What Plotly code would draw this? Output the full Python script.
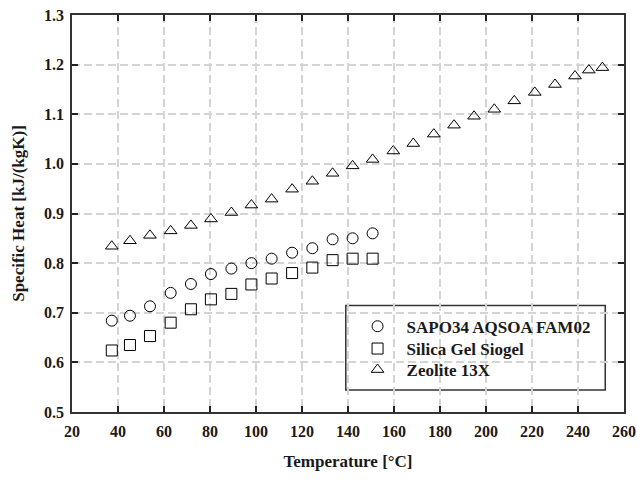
import plotly.graph_objects as go

temps = [37.3, 45.2, 53.9, 62.9, 71.7, 80.4, 89.3, 98.0, 106.8, 115.7, 124.5, 133.3, 142.0, 150.7,
         159.7, 168.4, 177.3, 186.1, 194.8, 203.6, 212.3, 221.2, 230.0, 238.7, 244.7, 250.6]

sapo34 = [0.684, 0.694, 0.713, 0.740, 0.758, 0.778, 0.789, 0.800, 0.809, 0.821, 0.830, 0.848, 0.850, 0.860]
silica = [0.624, 0.635, 0.653, 0.680, 0.707, 0.727, 0.738, 0.757, 0.769, 0.780, 0.791, 0.806, 0.809, 0.809]
zeolite = [0.834, 0.845, 0.856, 0.865, 0.876, 0.889, 0.902, 0.917, 0.929, 0.949, 0.965, 0.981, 0.996, 1.009,
           1.026, 1.041, 1.060, 1.078, 1.096, 1.110, 1.127, 1.144, 1.160, 1.177, 1.189, 1.194]

names = ["SAPO34 AQSOA FAM02", "Silica Gel Siogel", "Zeolite 13X"]
x_ticks = list(range(20, 261, 20))
y_ticks = [0.5, 0.6, 0.7, 0.8, 0.9, 1.0, 1.1, 1.2, 1.3]

FONT = "Liberation Serif"
TXT = "#1a1a1a"

fig = go.Figure()
series = [(sapo34, "circle-open"), (silica, "square-open"), (zeolite, "triangle-up-open")]
legend_ids = ["legend", "legend2", "legend3"]
for (vals, sym), name, lid in zip(series, names, legend_ids):
    fig.add_trace(go.Scatter(
        x=temps[:len(vals)], y=vals, mode="markers", name=name, legend=lid,
        marker=dict(symbol=sym, size=11, color="black", line=dict(width=1, color="black")),
    ))

axis_common = dict(
    showline=True, linecolor="#333", linewidth=1.5, mirror="allticks",
    ticks="inside", ticklen=6, tickwidth=2, tickcolor="#222",
    showgrid=True, gridcolor="#d4d4d4", gridwidth=1.5, griddash="8px,4px",
    zeroline=False, automargin=False, ticklabeloverflow="allow",
    tickfont=dict(family=FONT, size=16, color=TXT, weight="bold"),
)

fig.update_xaxes(
    range=[20, 260], tickvals=x_ticks, ticktext=[str(v) for v in x_ticks],
    ticklabelstandoff=4,
    title=dict(text="Temperature [°C]", font=dict(family=FONT, size=17, color=TXT, weight="bold"), standoff=16),
    **axis_common,
)
fig.update_yaxes(
    range=[0.5, 1.3], tickvals=y_ticks, ticktext=["%.1f" % v for v in y_ticks],
    ticklabelstandoff=3,
    title=dict(text="Specific Heat [kJ/(kgK)]", font=dict(family=FONT, size=17, color=TXT, weight="bold"), standoff=15),
    **axis_common,
)

fig.add_shape(type="rect", xref="paper", yref="paper", x0=0.496, x1=0.966, y0=0.0554, y1=0.268,
              line=dict(color="#333", width=1.5), fillcolor="white", layer="below")

leg_common = dict(x=0.501, xanchor="left", yanchor="middle",
                  bgcolor="rgba(0,0,0,0)", borderwidth=0, itemwidth=48,
                  font=dict(family=FONT, size=17, color=TXT, weight="bold"))

fig.update_layout(
    width=637, height=480,
    margin=dict(l=72, r=13, t=15, b=68),
    paper_bgcolor="white", plot_bgcolor="rgba(0,0,0,0)",
    font=dict(family=FONT, size=16, color=TXT),
    showlegend=True,
    legend=dict(y=0.2149, **leg_common),
    legend2=dict(y=0.1587, **leg_common),
    legend3=dict(y=0.1058, **leg_common),
)

fig.write_html("out.html", config={"displayModeBar": False},
               post_script="document.body.style.margin='0';document.body.style.overflow='hidden';")
